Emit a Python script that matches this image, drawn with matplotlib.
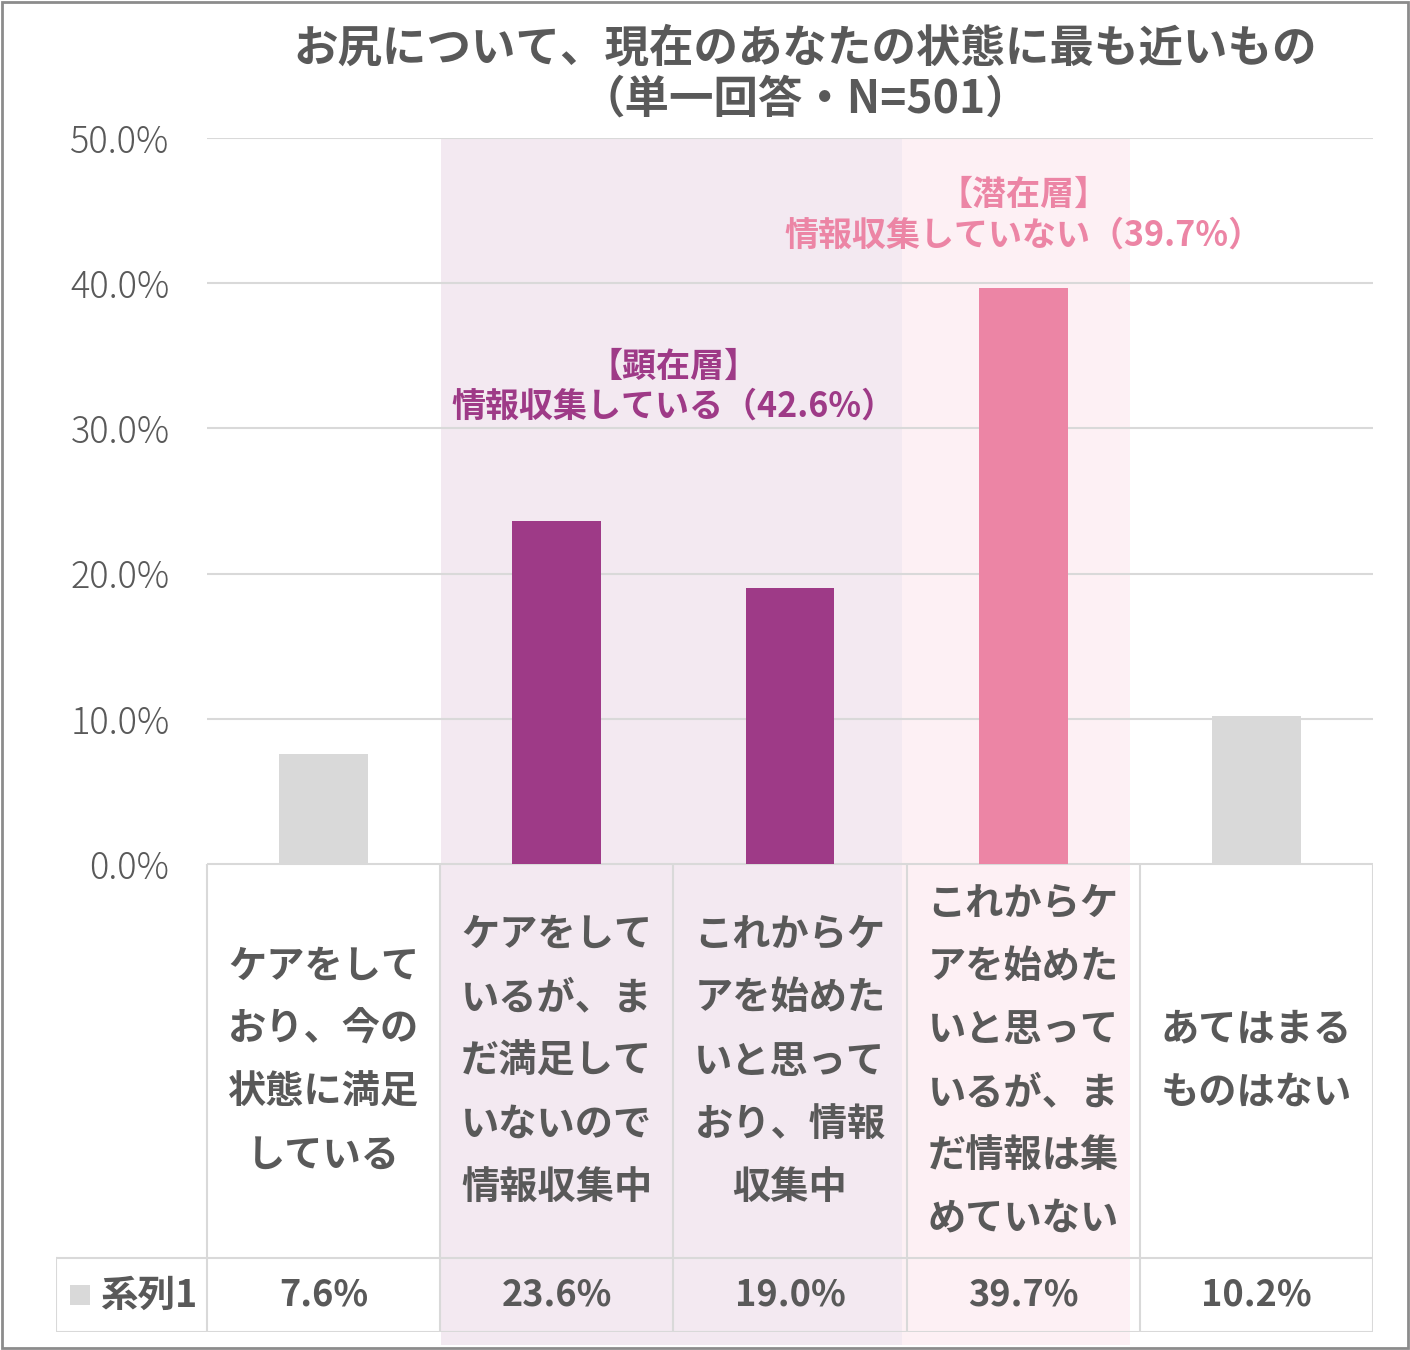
import matplotlib.pyplot as plt
from matplotlib.patches import Rectangle
import matplotlib.transforms as mtransforms

plt.rcParams['font.family'] = ['Noto Sans CJK JP', 'DejaVu Sans']

# DATA #
categories = [
    "ケアをして\nおり、今の\n状態に満足\nしている",
    "ケアをして\nいるが、ま\nだ満足して\nいないので\n情報収集中",
    "これからケ\nアを始めた\nいと思って\nおり、情報\n収集中",
    "これからケ\nアを始めた\nいと思って\nいるが、ま\nだ情報は集\nめていない",
    "あてはまる\nものはない",
]
values = [7.6, 23.6, 19.0, 39.7, 10.2]
value_labels = ["7.6%", "23.6%", "19.0%", "39.7%", "10.2%"]
series_name = "系列1"
yticks = [0, 10, 20, 30, 40, 50]
ytick_labels = ["0.0%", "10.0%", "20.0%", "30.0%", "40.0%", "50.0%"]
title = "お尻について、現在のあなたの状態に最も近いもの\n（単一回答・N=501）"
group_titles = ["【顕在層】\n情報収集している（42.6%）", "【潜在層】\n情報収集していない（39.7%）"]

# STYLE #
GRAY = "#D9D9D9"
PURPLE = "#9E3A87"
PINK = "#EC85A5"
TEXT = "#595959"
bar_colors = [GRAY, PURPLE, PURPLE, PINK, GRAY]

W, H = 1410, 1350
fig = plt.figure(figsize=(W / 100, H / 100), dpi=100)

def px_rect(x0, y0, x1, y1):
    # pixel box (top-left origin) -> figure fraction
    return [x0 / W, 1 - y1 / H, (x1 - x0) / W, (y1 - y0) / H]

ax = fig.add_axes(px_rect(207, 138, 1373, 864))
ax.set_facecolor("none")
n = len(values)
ax.bar(range(n), values, width=0.38, color=bar_colors, zorder=3)
ax.set_xlim(-0.5, n - 0.5)
ax.set_ylim(0, 50)
ax.set_yticks(yticks)
ax.set_yticklabels(ytick_labels, fontsize=26, color=TEXT, fontweight="light")
ax.tick_params(axis="y", length=0, pad=27)
ax.set_xticks([])
ax.grid(axis="y", color=GRAY, lw=1.5, zorder=0)
for s in ax.spines.values():
    s.set_visible(False)

# shaded groups (behind everything), x in data units, y in figure fraction
blend = mtransforms.blended_transform_factory(ax.transData, fig.transFigure)
y_lo, y_hi = 1 - 1345 / H, 1 - 138 / H
fig.add_artist(Rectangle((0.505, y_lo), 2.48 - 0.505, y_hi - y_lo, transform=blend,
                         facecolor="#F3E9F1", edgecolor="none", zorder=-2))
fig.add_artist(Rectangle((2.48, y_lo), 3.46 - 2.48, y_hi - y_lo, transform=blend,
                         facecolor="#FDF0F4", edgecolor="none", zorder=-2))

# group annotations
ax.text(1.5, 32.9, group_titles[0], ha="center", va="center", fontsize=24.5,
        fontweight="bold", color=PURPLE, linespacing=1.2)
ax.text(3.0, 44.7, group_titles[1], ha="center", va="center", fontsize=24.5,
        fontweight="bold", color=PINK, linespacing=1.2)

# title
fig.text(805 / W, 1 - 74 / H, title, ha="center", va="center", fontsize=32,
         fontweight="bold", color=TEXT, linespacing=1.15)

# data table
tab = fig.add_axes(px_rect(56, 864, 1373, 1332))
tab.set_facecolor("none")
left = -0.5 - (207 - 56) / 233.2
tab.set_xlim(left, n - 0.5)
tab.set_ylim(0, 1)
tab.axis("off")
row = 74 / 468
lc = dict(color=GRAY, lw=1.5)
tab.plot([-0.5, n - 0.5], [1, 1], **lc)
tab.plot([left, n - 0.5], [row, row], **lc)
tab.plot([left, n - 0.5], [0, 0], **lc)
tab.plot([left, left], [0, row], **lc)
for i in range(n + 1):
    tab.plot([i - 0.5, i - 0.5], [0, 1], **lc)
for i in range(n):
    tab.text(i, (1 + row) / 2, categories[i], ha="center", va="center", fontsize=27.5,
             fontweight="bold", color=TEXT, linespacing=1.78)
    tab.text(i, row / 2, value_labels[i], ha="center", va="center", fontsize=26,
             fontweight="bold", color=TEXT)
tab.add_patch(Rectangle((left + 0.06, row / 2 - 0.022), 0.085, 0.044,
                        facecolor=GRAY, edgecolor="none"))
tab.text(left + 0.19, row / 2, series_name, ha="left", va="center", fontsize=27,
         fontweight="bold", color=TEXT)

# outer border
fig.add_artist(Rectangle((0.0015, 0.0015), 0.997, 0.997, transform=fig.transFigure,
                         facecolor="none", edgecolor="#8C8C8C", lw=2))

fig.savefig("out.png", dpi=100)
